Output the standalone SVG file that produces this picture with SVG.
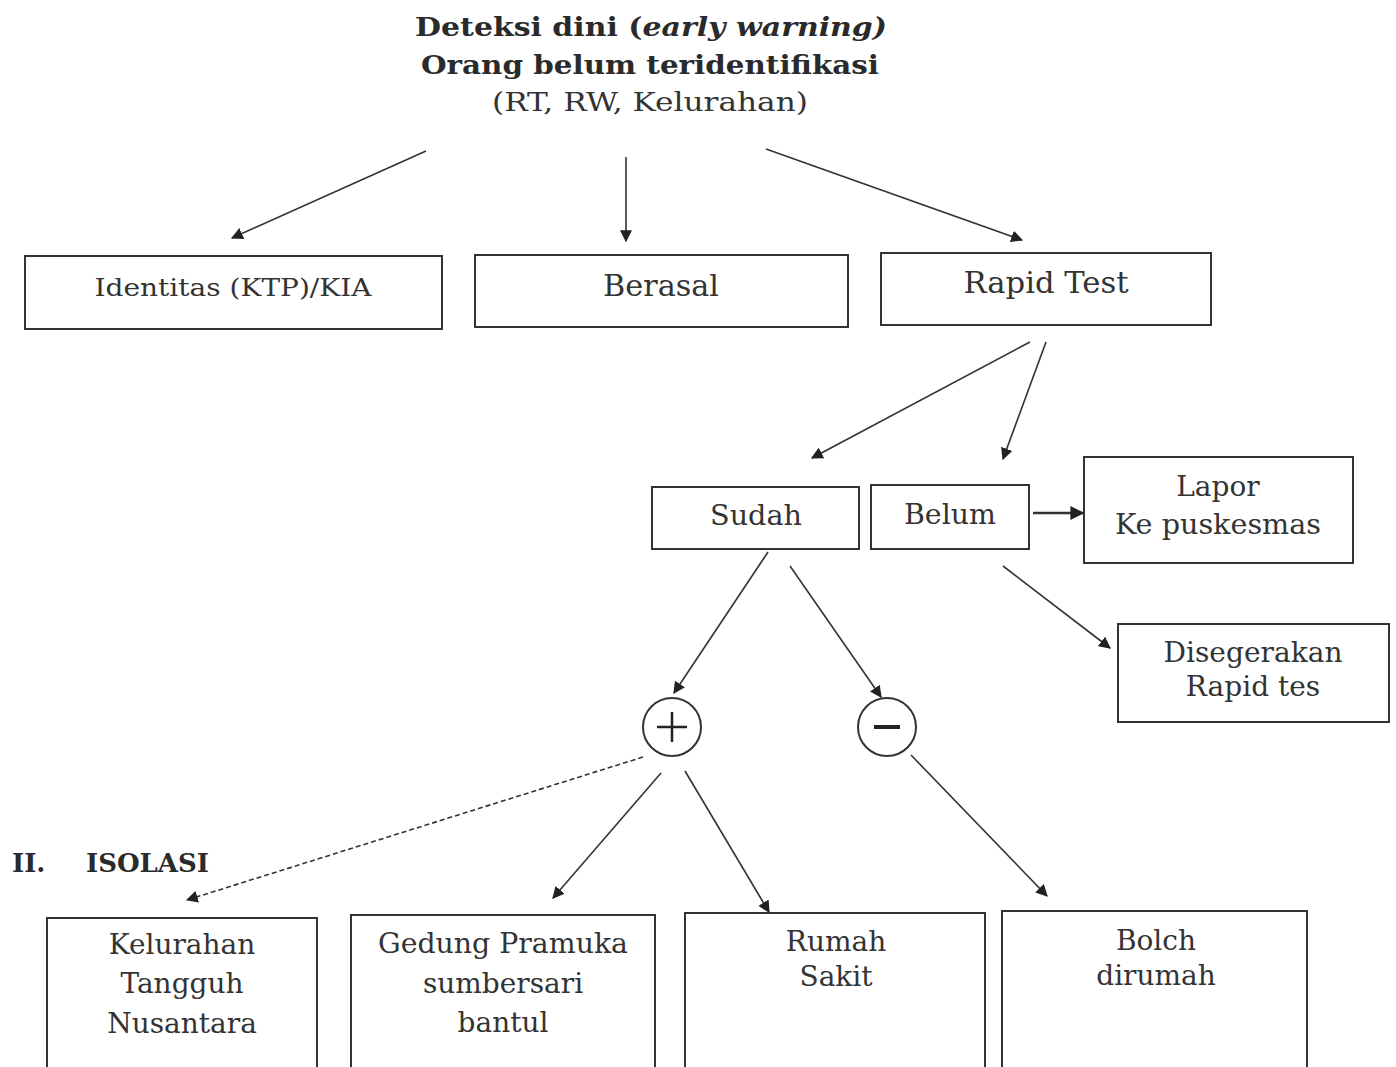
<svg xmlns="http://www.w3.org/2000/svg" width="1396" height="1067" viewBox="0 0 1396 1067">
<style>
.box{fill:#fff;stroke:#333;stroke-width:2}
.t{font-family:"DejaVu Serif","Liberation Serif",serif;font-size:28px;fill:#333;text-anchor:middle}
.h{font-family:"DejaVu Serif","Liberation Serif",serif;font-size:26px;font-weight:bold;fill:#2a2a2a;text-anchor:middle}
.c{fill:none;stroke:#333;stroke-width:2}
.e{stroke:#333;stroke-width:1.6;fill:none;marker-end:url(#ah)}
</style>
<defs>
<marker id="ah" viewBox="0 0 10 10" refX="9" refY="5" markerWidth="12" markerHeight="12" markerUnits="userSpaceOnUse" orient="auto">
<path d="M0,0 L10,5 L0,10 z" fill="#222"/>
</marker>
<marker id="ah2" viewBox="0 0 10 10" refX="9" refY="5" markerWidth="14" markerHeight="14" markerUnits="userSpaceOnUse" orient="auto">
<path d="M0,0 L10,5 L0,10 z" fill="#222"/>
</marker>
</defs>
<rect width="1396" height="1067" fill="#fff"/>
<g id="title">
<text class="h" x="651" y="36" textLength="472" lengthAdjust="spacingAndGlyphs">Deteksi dini (<tspan font-style="italic">early warning)</tspan></text>
<text class="h" x="650" y="74" textLength="458" lengthAdjust="spacingAndGlyphs">Orang belum teridentifikasi</text>
<text class="t" x="650" y="111" style="font-size:26px" textLength="316" lengthAdjust="spacingAndGlyphs">(RT, RW, Kelurahan)</text>
</g>
<g id="identitas"><rect class="box" x="25" y="256" width="417" height="73"/><text class="t" x="233" y="296" style="font-size:24px" textLength="277" lengthAdjust="spacingAndGlyphs">Identitas (KTP)/KIA</text></g>
<g id="berasal"><rect class="box" x="475" y="255" width="373" height="72"/><text class="t" x="661" y="296" style="font-size:30px" textLength="116" lengthAdjust="spacingAndGlyphs">Berasal</text></g>
<g id="rapid"><rect class="box" x="881" y="253" width="330" height="72"/><text class="t" x="1046" y="293" style="font-size:30px" textLength="165" lengthAdjust="spacingAndGlyphs">Rapid Test</text></g>
<g id="sudah"><rect class="box" x="652" y="487" width="207" height="62"/><text class="t" x="756" y="525" textLength="92" lengthAdjust="spacingAndGlyphs">Sudah</text></g>
<g id="belum"><rect class="box" x="871" y="485" width="158" height="64"/><text class="t" x="950" y="524" textLength="92" lengthAdjust="spacingAndGlyphs">Belum</text></g>
<g id="lapor"><rect class="box" x="1084" y="457" width="269" height="106"/><text class="t" x="1218" y="496">Lapor</text><text class="t" x="1218" y="534" textLength="206" lengthAdjust="spacingAndGlyphs">Ke puskesmas</text></g>
<g id="disegerakan"><rect class="box" x="1118" y="624" width="271" height="98"/><text class="t" x="1253" y="662" textLength="179" lengthAdjust="spacingAndGlyphs">Disegerakan</text><text class="t" x="1253" y="696">Rapid tes</text></g>
<g id="plus"><circle class="c" cx="672" cy="727" r="29"/><path d="M672,712 V742 M657,727 H687" stroke="#222" stroke-width="2.5"/></g>
<g id="minus"><circle class="c" cx="887" cy="727" r="29"/><path d="M874,727 H900" stroke="#222" stroke-width="4"/></g>
<g id="isolasi"><text class="h" x="12" y="872" style="text-anchor:start">II.</text><text class="h" x="86" y="872" style="text-anchor:start">ISOLASI</text></g>
<g id="kelurahan"><rect class="box" x="47" y="918" width="270" height="160"/><text class="t" x="182" y="954">Kelurahan</text><text class="t" x="182" y="993">Tangguh</text><text class="t" x="182" y="1033">Nusantara</text></g>
<g id="gedung"><rect class="box" x="351" y="915" width="304" height="160"/><text class="t" x="503" y="953" textLength="250" lengthAdjust="spacingAndGlyphs">Gedung Pramuka</text><text class="t" x="503" y="993">sumbersari</text><text class="t" x="503" y="1032">bantul</text></g>
<g id="rumah"><rect class="box" x="685" y="913" width="300" height="160"/><text class="t" x="836" y="951">Rumah</text><text class="t" x="836" y="986">Sakit</text></g>
<g id="boleh"><rect class="box" x="1002" y="911" width="305" height="160"/><text class="t" x="1156" y="950">Bolch</text><text class="t" x="1156" y="985">dirumah</text></g>
<g id="connectors">
<line class="e" x1="426" y1="151" x2="232" y2="238"/>
<line class="e" x1="626" y1="157" x2="626" y2="241"/>
<line class="e" x1="766" y1="149" x2="1022" y2="240"/>
<line class="e" x1="1030" y1="342" x2="812" y2="458"/>
<line class="e" x1="1046" y1="342" x2="1003" y2="459"/>
<line class="e" x1="1033" y1="513" x2="1083" y2="513" style="marker-end:url(#ah2);stroke-width:2.5"/>
<line class="e" x1="1003" y1="566" x2="1110" y2="648"/>
<line class="e" x1="768" y1="552" x2="674" y2="693"/>
<line class="e" x1="790" y1="566" x2="881" y2="697"/>
<line class="e" x1="643" y1="757" x2="187" y2="900" stroke-dasharray="5,3"/>
<line class="e" x1="661" y1="773" x2="553" y2="898"/>
<line class="e" x1="685" y1="771" x2="769" y2="912"/>
<line class="e" x1="911" y1="755" x2="1047" y2="896"/>
</g>
</svg>
